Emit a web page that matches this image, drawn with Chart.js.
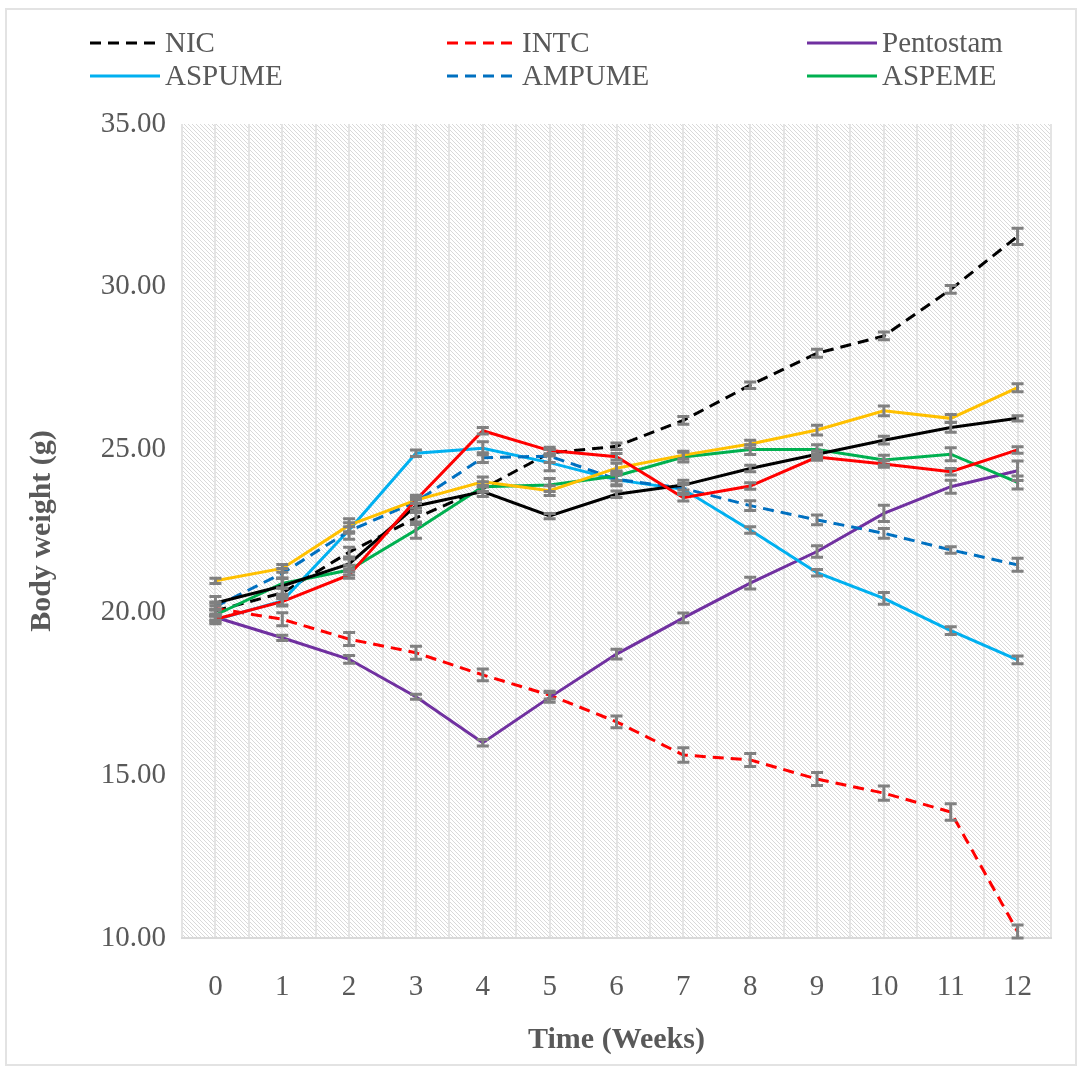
<!DOCTYPE html>
<html>
<head>
<meta charset="utf-8">
<script src="https://cdn.jsdelivr.net/npm/chart.js@4.4.1/dist/chart.umd.min.js"></script>
<style>
  html, body { margin: 0; padding: 0; background: #fff; }
  #wrap { position: relative; width: 1083px; height: 1070px; }
  #frame { position: absolute; left: 5px; top: 8px; right: 6px; bottom: 4px; border: 2px solid #e3e3e3; }
</style>
</head>
<body>
<div id="wrap">
  <div id="frame"></div>
  <canvas id="bodyWeightChart"></canvas>
</div>
<script>
// Body weight over 12 weeks

const weeks = [0, 1, 2, 3, 4, 5, 6, 7, 8, 9, 10, 11, 12];

const nicValues       = [20.05, 20.6, 21.85, 22.9, 23.8, 24.9, 25.1, 25.9, 26.98, 27.96, 28.49, 29.92, 31.55];
const intcValues      = [20.12, 19.79, 19.18, 18.76, 18.08, 17.46, 16.64, 15.62, 15.47, 14.88, 14.45, 13.87, 10.2];
const pentostamValues = [19.85, 19.22, 18.56, 17.41, 16.0, 17.39, 18.72, 19.83, 20.9, 21.87, 23.04, 23.86, 24.35];
const aspumeValues    = [19.77, 20.35, 22.53, 24.89, 25.04, 24.6, 24.07, 23.78, 22.53, 21.22, 20.43, 19.44, 18.54];
const ampumeValues    = [20.18, 21.2, 22.5, 23.4, 24.75, 24.8, 24.09, 23.81, 23.28, 22.84, 22.43, 21.92, 21.46];
const aspemeValues    = [19.92, 20.89, 21.3, 22.53, 23.86, 23.91, 24.19, 24.77, 25.0, 25.0, 24.68, 24.86, 23.99];
const series7Values   = [19.79, 20.33, 21.15, 23.45, 25.58, 24.97, 24.78, 23.52, 23.88, 24.77, 24.56, 24.32, 24.99];
const series8Values   = [20.29, 20.81, 21.49, 23.27, 23.71, 22.96, 23.63, 23.91, 24.42, 24.86, 25.29, 25.68, 25.96];
const series9Values   = [20.97, 21.35, 22.68, 23.45, 24.01, 23.74, 24.43, 24.83, 25.17, 25.6, 26.19, 25.96, 26.9];

// standard errors (half height of each gray bar)
const nicErr       = [0.15, 0.15, 0.15, 0.2, 0.1, 0.1, 0.1, 0.12, 0.1, 0.12, 0.12, 0.12, 0.25];
const intcErr      = [0.2, 0.2, 0.2, 0.2, 0.18, 0.12, 0.18, 0.22, 0.2, 0.2, 0.22, 0.25, 0.2];
const pentostamErr = [0.1, 0.08, 0.12, 0.08, 0.1, 0.15, 0.15, 0.15, 0.18, 0.18, 0.25, 0.2, 0.3];
const aspumeErr    = [0.12, 0.15, 0.1, 0.1, 0.2, 0.25, 0.15, 0.15, 0.1, 0.1, 0.18, 0.12, 0.12];
const ampumeErr    = [0.1, 0.15, 0.25, 0.2, 0.15, 0.2, 0.2, 0.15, 0.15, 0.15, 0.15, 0.1, 0.2];
const aspemeErr    = [0.15, 0.15, 0.15, 0.25, 0.15, 0.2, 0.15, 0.15, 0.15, 0.15, 0.15, 0.2, 0.2];
const series7Err   = [0.1, 0.1, 0.1, 0.1, 0.1, 0.1, 0.1, 0.1, 0.1, 0.1, 0.1, 0.1, 0.1];
const series8Err   = [0.2, 0.25, 0.15, 0.2, 0.15, 0.08, 0.1, 0.15, 0.1, 0.1, 0.12, 0.15, 0.08];
const series9Err   = [0.08, 0.12, 0.2, 0.1, 0.15, 0.15, 0.15, 0.12, 0.12, 0.15, 0.15, 0.12, 0.12];

const yTicks = [10, 15, 20, 25, 30, 35];

const FONT = "'Liberation Serif', 'Times New Roman', serif";
const TEXT_GRAY = '#595959';

function makeSeries(label, values, errors, color, dashed, inLegend) {
    return {
        label: label,
        data: weeks.map((w, i) => ({ x: w, y: values[i] })),
        errorBars: errors,
        borderColor: color,
        backgroundColor: color,
        borderWidth: 3,
        borderDash: dashed ? [11, 7] : [],
        pointRadius: 0,
        tension: 0,
        fill: false,
        inLegend: inLegend
    };
}

const datasets = [
    makeSeries('Series 7', series7Values, series7Err, '#ff0000', false, false),
    makeSeries('Series 8', series8Values, series8Err, '#000000', false, false),
    makeSeries('Series 9', series9Values, series9Err, '#ffc000', false, false),
    makeSeries('ASPEME', aspemeValues, aspemeErr, '#00b050', false, true),
    makeSeries('AMPUME', ampumeValues, ampumeErr, '#0070c0', true, true),
    makeSeries('ASPUME', aspumeValues, aspumeErr, '#00b0f0', false, true),
    makeSeries('Pentostam', pentostamValues, pentostamErr, '#7030a0', false, true),
    makeSeries('INTC', intcValues, intcErr, '#ff0000', true, true),
    makeSeries('NIC', nicValues, nicErr, '#000000', true, true)
];

// legend order as in the figure (3 columns, 2 rows)
const legendOrder = ['NIC', 'INTC', 'Pentostam', 'ASPUME', 'AMPUME', 'ASPEME'];

// light diagonal hatching behind the plot
const hatchBackground = {
    id: 'hatchBackground',
    beforeDraw(chart) {
        const { ctx, chartArea } = chart;
        const tile = document.createElement('canvas');
        tile.width = 4;
        tile.height = 4;
        const t = tile.getContext('2d');
        t.fillStyle = '#ffffff';
        t.fillRect(0, 0, 4, 4);
        t.fillStyle = '#d9d9d9';
        for (let i = 0; i < 4; i++) t.fillRect(i, i, 1, 1);
        ctx.save();
        ctx.fillStyle = ctx.createPattern(tile, 'repeat');
        ctx.fillRect(chartArea.left, chartArea.top, chartArea.right - chartArea.left, chartArea.bottom - chartArea.top);
        ctx.restore();
    }
};

const errorBars = {
    id: 'errorBars',
    afterDatasetsDraw(chart) {
        const ctx = chart.ctx;
        const yScale = chart.scales.y;
        const xScale = chart.scales.x;
        ctx.save();
        ctx.strokeStyle = '#808080';
        ctx.lineWidth = 3;
        chart.data.datasets.forEach(ds => {
            ds.data.forEach((p, i) => {
                const e = ds.errorBars[i];
                const x = xScale.getPixelForValue(p.x);
                const yTop = yScale.getPixelForValue(p.y + e);
                const yBot = yScale.getPixelForValue(p.y - e);
                ctx.beginPath();
                ctx.moveTo(x, yTop);
                ctx.lineTo(x, yBot);
                ctx.moveTo(x - 6, yTop);
                ctx.lineTo(x + 6, yTop);
                ctx.moveTo(x - 6, yBot);
                ctx.lineTo(x + 6, yBot);
                ctx.stroke();
            });
        });
        ctx.restore();
    }
};

const customLegend = {
    id: 'customLegend',
    afterDraw(chart) {
        const ctx = chart.ctx;
        const colX = [90, 447, 807];
        const rowY = [43, 76];
        ctx.save();
        ctx.font = '29px ' + FONT;
        ctx.textBaseline = 'middle';
        ctx.textAlign = 'left';
        legendOrder.forEach((name, k) => {
            const ds = chart.data.datasets.find(d => d.label === name);
            const x = colX[k % 3];
            const y = rowY[Math.floor(k / 3)];
            ctx.strokeStyle = ds.borderColor;
            ctx.lineWidth = 3;
            ctx.setLineDash(ds.borderDash.length ? [11, 7] : []);
            ctx.beginPath();
            ctx.moveTo(x, y);
            ctx.lineTo(x + 70, y);
            ctx.stroke();
            ctx.setLineDash([]);
            ctx.fillStyle = TEXT_GRAY;
            ctx.fillText(name, x + 75, y + 1);
        });
        ctx.restore();
    }
};

const ctx = document.getElementById('bodyWeightChart').getContext('2d');

new Chart(ctx, {
    type: 'line',
    data: { datasets: datasets },
    options: {
        responsive: true,
        maintainAspectRatio: false,
        animation: false,
        layout: { padding: { top: 124, right: 28, bottom: 10, left: 10 } },
        plugins: {
            legend: { display: false },
            tooltip: { enabled: false }
        },
        scales: {
            x: {
                type: 'linear',
                min: -0.5,
                max: 12.5,
                afterBuildTicks: scale => {
                    const ticks = [];
                    for (let v = -0.5; v <= 12.5; v += 0.5) ticks.push({ value: v });
                    scale.ticks = ticks;
                },
                afterFit: scale => { scale.height = 122; },
                ticks: {
                    autoSkip: false,
                    maxRotation: 0,
                    padding: 32,
                    color: TEXT_GRAY,
                    font: { family: FONT, size: 29 },
                    callback: v => (Number.isInteger(v) && weeks.includes(v) ? String(v) : '')
                },
                grid: { display: true, color: '#e4e4e4', lineWidth: 2, drawTicks: false },
                border: { display: true, color: '#d9d9d9', width: 2 },
                title: {
                    display: true,
                    text: 'Time (Weeks)',
                    color: TEXT_GRAY,
                    font: { family: FONT, size: 30, weight: 'bold' },
                    padding: { top: 0, bottom: 2 }
                }
            },
            y: {
                min: 10,
                max: 35,
                afterBuildTicks: scale => { scale.ticks = yTicks.map(v => ({ value: v })); },
                afterFit: scale => { scale.width = 172; },
                ticks: {
                    padding: 8,
                    color: TEXT_GRAY,
                    font: { family: FONT, size: 29 },
                    callback: v => v.toFixed(2)
                },
                grid: { display: false },
                border: { display: false },
                title: {
                    display: true,
                    text: 'Body weight (g)',
                    color: TEXT_GRAY,
                    font: { family: FONT, size: 30, weight: 'bold' },
                    padding: { top: 14, bottom: 0 }
                }
            }
        }
    },
    plugins: [hatchBackground, errorBars, customLegend]
});
</script>
</body>
</html>
